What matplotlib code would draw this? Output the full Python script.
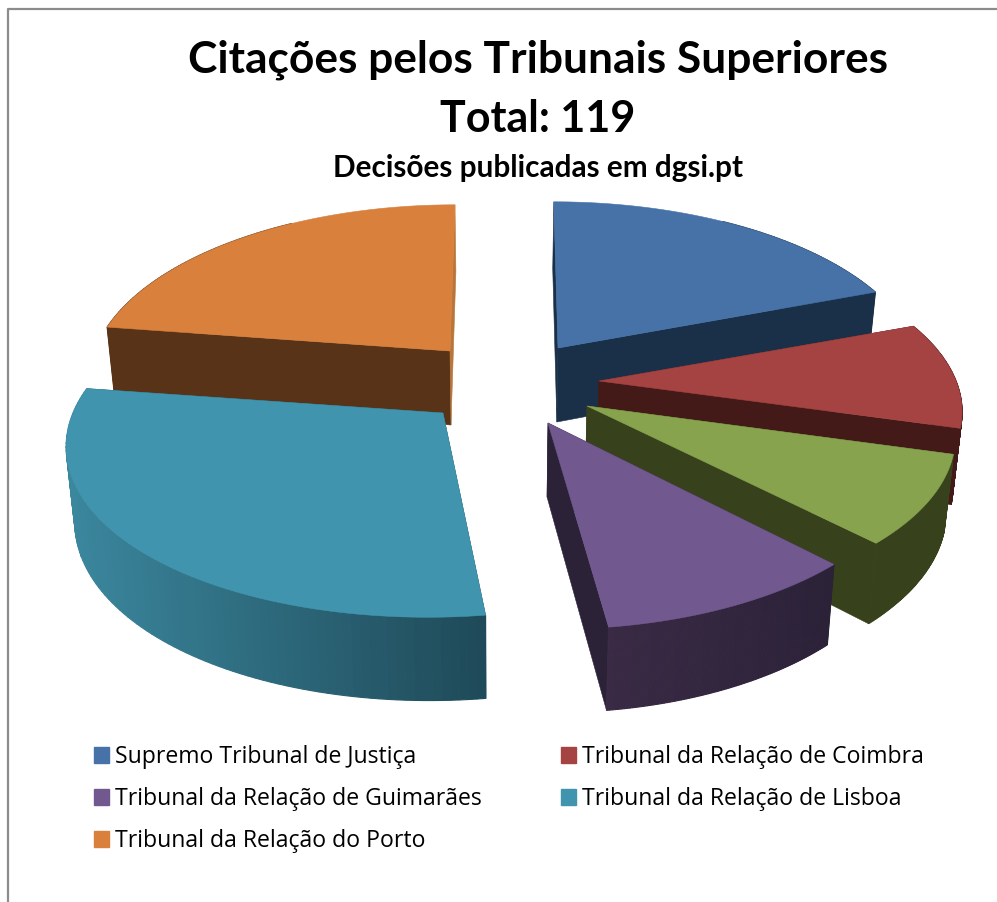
import numpy as np
import matplotlib
matplotlib.use("Agg")
import matplotlib.pyplot as plt
from matplotlib.patches import Rectangle
from matplotlib.colors import to_rgb

# Citations per court (total 119), clockwise from the top
courts = ["Supremo Tribunal de Justiça", "Tribunal da Relação de Coimbra", "Tribunal da Relação de Évora",
          "Tribunal da Relação de Guimarães", "Tribunal da Relação de Lisboa", "Tribunal da Relação do Porto"]
citations = [23, 12, 10, 12, 35, 27]

# Legend skips the green slice, same as the original
legend_order = [0, 3, 5, 1, 4]

top_colors = ["#4672a8", "#a54342", "#87a34d", "#71588e", "#4094ae", "#d8803c"]
wall_start = ["#1a3048", "#431a18", "#37411c", "#2b2238", "#1f4a59", "#583318"]
wall_end = ["#1a3048", "#431a18", "#37411c", "#3a2a45", "#3b879e", "#583318"]
end_cut_colors = ["#1a3048", "#431a18", "#37411c", "#2b2238", "#1f4a59", "#b8763a"]

# Where each exploded slice has its point, in pixels
tip_x = [558, 599, 587, 548, 443, 450]
tip_y = [348, 381, 406, 423, 413, 351]
radius_x = [0.97, 0.965, 0.98, 0.98, 1.0, 0.96]
radius_y = [1.0, 0.98, 1.0, 1.03, 1.02, 1.0]
vanish_x = [527, 540, 540, 525, 525, 487]
draw_order = [5, 0, 1, 2, 3, 4]

RX, RY = 370, 169
PERSP = 0.156
DEPTH = 74


def project(i, angle):
    u, v = np.sin(angle), -np.cos(angle)
    s = 1 / (1 - PERSP * v)
    x = vanish_x[i] + (tip_x[i] - vanish_x[i] + RX * radius_x[i] * u) * s
    y = tip_y[i] + RY * radius_y[i] * v * s
    return x, y, s


def drop(x, y, s):
    # bottom edge of the wall under a top point
    return 500 + (x - 500) * 0.98, y + DEPTH * s ** 0.7


fig, ax = plt.subplots(figsize=(9.97, 9.02), dpi=100)
fig.subplots_adjust(0, 0, 1, 1)
ax.set_xlim(0, 997)
ax.set_ylim(902, 0)
ax.axis("off")

# chart frame, cropped on the right and bottom
ax.plot([8, 8, 997], [902, 8.5, 8.5], color="#8c8c8c", lw=1.6)

edges = np.cumsum([0] + citations) / sum(citations) * 2 * np.pi

for i in draw_order:
    angles = np.linspace(edges[i], edges[i + 1], 90)
    xs, ys, ss = project(i, angles)
    bx, by = drop(xs, ys, ss)
    tipbx, tipby = drop(tip_x[i], tip_y[i], 1.0)
    c0, c1 = np.array(to_rgb(wall_start[i])), np.array(to_rgb(wall_end[i]))

    # the two cut faces
    ax.fill([tip_x[i], xs[0], bx[0], tipbx], [tip_y[i], ys[0], by[0], tipby],
            color=wall_start[i], lw=0.4)
    ax.fill([tip_x[i], xs[-1], bx[-1], tipbx], [tip_y[i], ys[-1], by[-1], tipby],
            color=end_cut_colors[i], lw=0.4)

    # outer wall in thin strips so the shading can run along it
    span = xs.max() - xs.min()
    for k in range(len(angles) - 1):
        # the far rim near the top of the pie can't be seen
        if np.cos(angles[k]) > 0.85:
            continue
        t = (xs.max() - xs[k]) / span
        col = c0 + (c1 - c0) * t
        ax.fill([xs[k], xs[k + 1], bx[k + 1], bx[k]], [ys[k], ys[k + 1], by[k + 1], by[k]],
                color=col, lw=0.8)

    ax.fill(np.r_[tip_x[i], xs], np.r_[tip_y[i], ys], color=top_colors[i], lw=0.4)

title_font = ["Lato", "DejaVu Sans"]
ax.text(538, 60, "Citações pelos Tribunais Superiores", ha="center", va="center",
        fontsize=31.9, fontweight="bold", family=title_font, color="black")
ax.text(538, 119, "Total: 119", ha="center", va="center",
        fontsize=31, fontweight="bold", family=title_font, color="black")
ax.text(538, 168, "Decisões publicadas em dgsi.pt", ha="center", va="center",
        fontsize=21.4, fontweight="bold", family=title_font, color="black")

handles = [Rectangle((0, 0), 1, 1, color=top_colors[i]) for i in legend_order]
labels = [courts[i] for i in legend_order]
ax.legend(handles, labels, ncols=2, loc="upper left", bbox_to_anchor=(94 / 997, 1 - 745 / 902),
          frameon=False, borderpad=0, borderaxespad=0, handlelength=0.65, handleheight=0.65,
          handletextpad=0.26, columnspacing=3.45, labelspacing=0.78,
          prop={"family": "Open Sans", "size": 16.6})

fig.savefig("out.png", dpi=100, facecolor="white")
